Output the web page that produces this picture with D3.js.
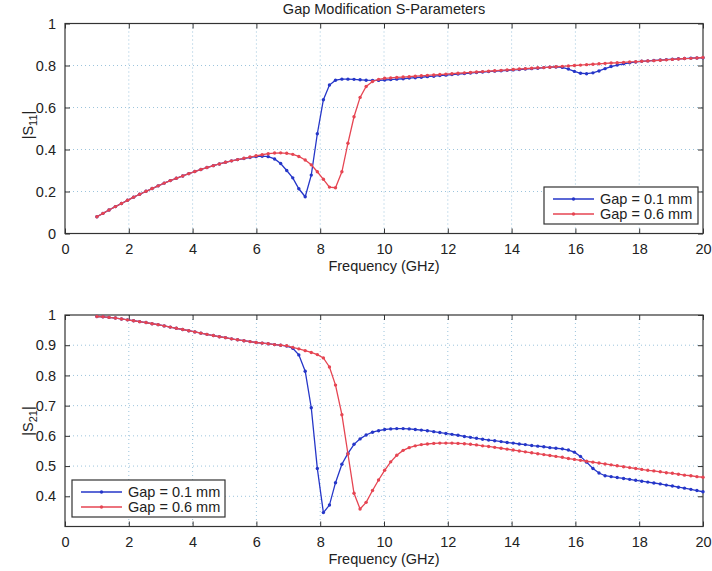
<!DOCTYPE html>
<html>
<head>
<meta charset="utf-8">
<script src="https://cdn.jsdelivr.net/npm/d3@7"></script>
<style>
  body { margin: 0; background: #fff; }
  text { font-family: "Liberation Sans", Arial, sans-serif; fill: #222; }
</style>
</head>
<body>
<div id="container"></div>
<script>
/* DATA */
// frequency samples (GHz), 100 points from 1 to 20
const freq = [1.00,1.19,1.38,1.58,1.77,1.96,2.15,2.34,2.54,2.73,
  2.92,3.11,3.30,3.49,3.69,3.88,4.07,4.26,4.45,4.65,
  4.84,5.03,5.22,5.41,5.61,5.80,5.99,6.18,6.37,6.57,
  6.76,6.95,7.14,7.33,7.53,7.72,7.91,8.10,8.29,8.48,
  8.68,8.87,9.06,9.25,9.44,9.64,9.83,10.02,10.21,10.40,
  10.60,10.79,10.98,11.17,11.36,11.56,11.75,11.94,12.13,12.32,
  12.52,12.71,12.90,13.09,13.28,13.47,13.67,13.86,14.05,14.24,
  14.43,14.63,14.82,15.01,15.20,15.39,15.59,15.78,15.97,16.16,
  16.35,16.55,16.74,16.93,17.12,17.31,17.51,17.70,17.89,18.08,
  18.27,18.46,18.66,18.85,19.04,19.23,19.42,19.62,19.81,20.00];

const s11Gap01 = [0.080,0.096,0.112,0.128,0.143,0.158,0.173,0.187,0.201,0.214,
  0.227,0.240,0.252,0.263,0.274,0.285,0.295,0.305,0.314,0.323,
  0.331,0.339,0.346,0.352,0.357,0.362,0.366,0.368,0.366,0.355,
  0.333,0.300,0.265,0.213,0.175,0.278,0.475,0.637,0.707,0.730,
  0.735,0.735,0.734,0.732,0.730,0.729,0.729,0.731,0.733,0.735,
  0.737,0.740,0.742,0.744,0.747,0.749,0.752,0.754,0.757,0.759,
  0.762,0.764,0.767,0.769,0.771,0.773,0.775,0.777,0.779,0.781,
  0.783,0.785,0.787,0.790,0.792,0.793,0.791,0.783,0.772,0.763,
  0.761,0.765,0.774,0.785,0.795,0.802,0.808,0.813,0.817,0.820,
  0.822,0.824,0.826,0.828,0.830,0.832,0.833,0.835,0.836,0.837];

const s11Gap06 = [0.080,0.096,0.112,0.128,0.143,0.158,0.173,0.187,0.201,0.214,
  0.227,0.240,0.252,0.263,0.274,0.285,0.295,0.305,0.314,0.323,
  0.331,0.339,0.346,0.352,0.358,0.364,0.370,0.375,0.380,0.383,
  0.384,0.382,0.377,0.367,0.350,0.327,0.294,0.258,0.221,0.218,
  0.294,0.430,0.556,0.648,0.700,0.724,0.734,0.739,0.741,0.743,
  0.745,0.747,0.749,0.751,0.753,0.755,0.757,0.759,0.761,0.763,
  0.765,0.767,0.769,0.771,0.773,0.775,0.777,0.779,0.781,0.783,
  0.785,0.787,0.789,0.790,0.792,0.794,0.796,0.798,0.800,0.802,
  0.804,0.806,0.808,0.810,0.812,0.813,0.815,0.817,0.818,0.820,
  0.822,0.823,0.825,0.827,0.829,0.831,0.833,0.834,0.836,0.838];

const s21Gap01 = [0.995,0.994,0.992,0.990,0.987,0.984,0.981,0.978,0.975,0.971,
  0.968,0.964,0.960,0.956,0.952,0.948,0.944,0.940,0.936,0.932,
  0.928,0.925,0.921,0.918,0.915,0.912,0.909,0.907,0.905,0.902,
  0.900,0.897,0.890,0.868,0.814,0.693,0.492,0.346,0.371,0.445,
  0.506,0.542,0.572,0.590,0.603,0.612,0.617,0.621,0.623,0.624,
  0.624,0.623,0.621,0.619,0.617,0.614,0.611,0.608,0.605,0.602,
  0.598,0.595,0.592,0.589,0.586,0.584,0.581,0.578,0.576,0.573,
  0.571,0.568,0.566,0.564,0.561,0.559,0.557,0.553,0.546,0.532,
  0.513,0.492,0.477,0.468,0.465,0.462,0.459,0.456,0.453,0.450,
  0.447,0.444,0.441,0.437,0.434,0.430,0.427,0.423,0.419,0.415];

const s21Gap06 = [0.995,0.994,0.992,0.990,0.987,0.984,0.981,0.978,0.975,0.971,
  0.968,0.964,0.960,0.956,0.952,0.948,0.944,0.940,0.936,0.932,
  0.928,0.925,0.921,0.918,0.915,0.912,0.909,0.907,0.905,0.902,
  0.900,0.898,0.893,0.888,0.882,0.876,0.869,0.858,0.828,0.768,
  0.670,0.540,0.410,0.358,0.380,0.419,0.454,0.486,0.514,0.536,
  0.552,0.561,0.567,0.571,0.573,0.575,0.576,0.576,0.576,0.575,
  0.574,0.572,0.570,0.567,0.565,0.562,0.559,0.556,0.553,0.550,
  0.547,0.544,0.541,0.538,0.535,0.532,0.529,0.525,0.522,0.519,
  0.516,0.513,0.510,0.507,0.504,0.501,0.498,0.495,0.492,0.489,
  0.486,0.484,0.481,0.478,0.476,0.473,0.470,0.468,0.465,0.463];

const xTicks = [0, 2, 4, 6, 8, 10, 12, 14, 16, 18, 20];
const s11Ticks = [0, 0.2, 0.4, 0.6, 0.8, 1];
const s21Ticks = [0.4, 0.5, 0.6, 0.7, 0.8, 0.9, 1];
const seriesNames = ["Gap = 0.1 mm", "Gap = 0.6 mm"];

/* CONSTANTS */
const width = 712, height = 571;
const left = 65, right = 703;
const colors = ["#2536c8", "#e64552"];
const tickLen = 5;
const fontSize = "14.5px";

const svg = d3.select("#container")
  .append("svg")
  .attr("width", width)
  .attr("height", height);

const xScale = d3.scaleLinear().domain([0, 20]).range([left, right]);

svg.append("text")
  .attr("x", (left + right) / 2)
  .attr("y", 14)
  .attr("text-anchor", "middle")
  .style("font-size", fontSize)
  .text("Gap Modification S-Parameters");

// one panel per S-parameter
function drawPanel(opts) {
  const yScale = d3.scaleLinear().domain(opts.domain).range([opts.bottom, opts.top]);
  const g = svg.append("g");

  // dotted grid
  g.selectAll("line.vgrid")
    .data(xTicks.filter(d => d > 0 && d < 20))
    .join("line")
    .attr("x1", d => xScale(d)).attr("x2", d => xScale(d))
    .attr("y1", opts.top).attr("y2", opts.bottom)
    .attr("stroke", "#9cc4dc").attr("stroke-width", 1)
    .attr("stroke-dasharray", "1,3");

  g.selectAll("line.hgrid")
    .data(opts.ticks.filter(d => d > opts.domain[0] && d < opts.domain[1]))
    .join("line")
    .attr("x1", left).attr("x2", right)
    .attr("y1", d => yScale(d)).attr("y2", d => yScale(d))
    .attr("stroke", "#9cc4dc").attr("stroke-width", 1)
    .attr("stroke-dasharray", "1,3");

  // axes with ticks pointing inwards, on all four sides
  g.append("g")
    .attr("transform", `translate(0,${opts.bottom})`)
    .call(d3.axisBottom(xScale).tickValues(xTicks).tickSizeInner(-tickLen).tickSizeOuter(0).tickPadding(10));
  g.append("g")
    .attr("transform", `translate(0,${opts.top})`)
    .call(d3.axisTop(xScale).tickValues(xTicks).tickSizeInner(-tickLen).tickSizeOuter(0).tickFormat(""));
  g.append("g")
    .attr("transform", `translate(${left},0)`)
    .call(d3.axisLeft(yScale).tickValues(opts.ticks).tickSizeInner(-tickLen).tickSizeOuter(0).tickPadding(9).tickFormat(d3.format("~g")));
  g.append("g")
    .attr("transform", `translate(${right},0)`)
    .call(d3.axisRight(yScale).tickValues(opts.ticks).tickSizeInner(-tickLen).tickSizeOuter(0).tickFormat(""));

  g.selectAll(".domain").remove();
  g.selectAll(".tick line").attr("stroke", "#333");
  g.selectAll(".tick text").style("font-size", fontSize).attr("fill", "#222");

  g.append("rect")
    .attr("x", left).attr("y", opts.top)
    .attr("width", right - left).attr("height", opts.bottom - opts.top)
    .attr("fill", "none").attr("stroke", "#333").attr("stroke-width", 1.2);

  // axis labels
  g.append("text")
    .attr("x", (left + right) / 2)
    .attr("y", opts.bottom + 37)
    .attr("text-anchor", "middle")
    .style("font-size", fontSize)
    .text("Frequency (GHz)");

  const yl = g.append("text")
    .attr("transform", `translate(33,${opts.labelY}) rotate(-90)`)
    .attr("text-anchor", "middle")
    .style("font-size", fontSize);
  yl.append("tspan").text("|S");
  yl.append("tspan").attr("dy", 4).style("font-size", "11px").text(opts.sub);
  yl.append("tspan").attr("dy", -4).text("|");

  // curves
  const line = d3.line().x(d => xScale(d[0])).y(d => yScale(d[1]));
  opts.series.forEach((vals, i) => {
    const pts = freq.map((f, j) => [f, vals[j]]);
    g.append("path")
      .datum(pts)
      .attr("fill", "none")
      .attr("stroke", colors[i])
      .attr("stroke-width", 1.3)
      .attr("d", line);
    g.selectAll(null)
      .data(pts)
      .join("circle")
      .attr("cx", d => xScale(d[0]))
      .attr("cy", d => yScale(d[1]))
      .attr("r", 1.7)
      .attr("fill", colors[i]);
  });

  // legend
  const lg = g.append("g").attr("transform", `translate(${opts.legend.x},${opts.legend.y})`);
  lg.append("rect")
    .attr("width", opts.legend.w).attr("height", 37)
    .attr("fill", "#fff").attr("stroke", "#333").attr("stroke-width", 1.2);
  seriesNames.forEach((name, i) => {
    const yy = 12 + i * 15;
    lg.append("line")
      .attr("x1", 9).attr("x2", 50).attr("y1", yy).attr("y2", yy)
      .attr("stroke", colors[i]).attr("stroke-width", 1.3);
    lg.append("circle").attr("cx", 29.5).attr("cy", yy).attr("r", 1.7).attr("fill", colors[i]);
    lg.append("text")
      .attr("x", 56).attr("y", yy + 5)
      .style("font-size", fontSize)
      .text(name);
  });
}

drawPanel({
  top: 23.5, bottom: 233.5, domain: [0, 1], ticks: s11Ticks,
  sub: "11", labelY: 125,
  series: [s11Gap01, s11Gap06],
  legend: { x: 544, y: 187, w: 154 }
});

drawPanel({
  top: 315, bottom: 526.5, domain: [0.3, 1], ticks: s21Ticks,
  sub: "21", labelY: 421,
  series: [s21Gap01, s21Gap06],
  legend: { x: 72, y: 480, w: 153 }
});
</script>
</body>
</html>
